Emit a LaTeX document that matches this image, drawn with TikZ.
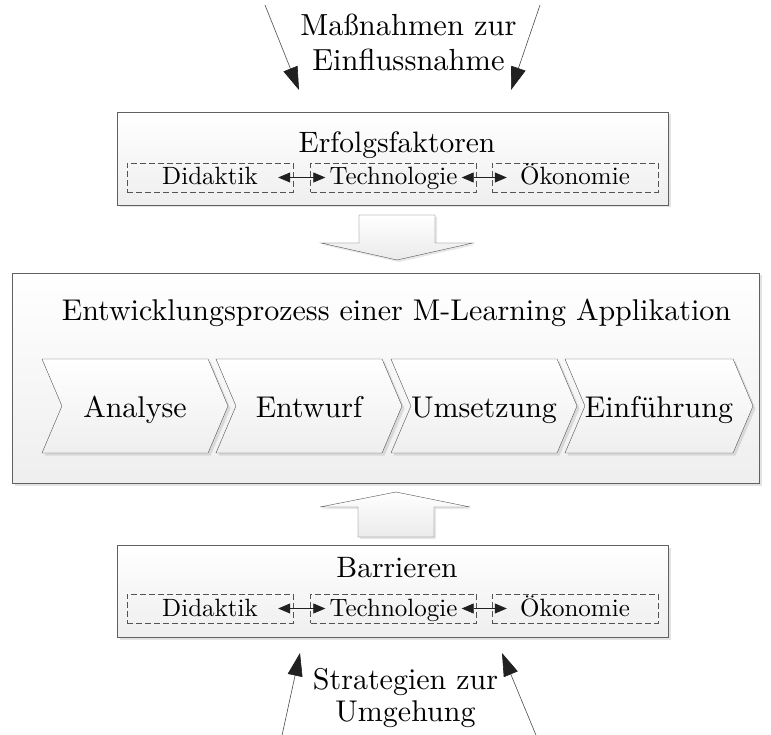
\documentclass[tikz,border=0pt]{standalone}
\usepackage{fontspec}
\setmainfont{lmroman10-regular.otf}
\usetikzlibrary{shapes.symbols,shadows,arrows.meta}

\begin{document}
\begin{tikzpicture}[x=1pt,y=-1pt,
    box/.style={draw=gray!75!black,top color=white,bottom color=gray!13,
      drop shadow={shadow xshift=2.5pt,shadow yshift=-2.5pt,opacity=0.22},inner sep=0pt},
    factor/.style={draw=gray!65!black,dash pattern=on 6pt off 3pt,minimum width=166pt,
      minimum height=29pt,inner sep=0pt,text height=19pt,text depth=4pt,
      font=\fontsize{25}{28}\selectfont},
    phase/.style={signal,signal to=east,signal from=west,signal pointer angle=134,
      draw=gray!65!black,top color=white,bottom color=gray!13,
      drop shadow={shadow xshift=2.5pt,shadow yshift=-2.5pt,opacity=0.22},
      minimum width=186pt,minimum height=94pt,inner sep=0pt,text height=26pt,text depth=4pt,
      font=\fontsize{30}{34}\selectfont},
    heading/.style={anchor=base,font=\fontsize{29.5}{34}\selectfont},
    blockarrow/.style={draw=gray!65!black,top color=white,bottom color=gray!16,
      drop shadow={shadow xshift=2pt,shadow yshift=-2pt,opacity=0.18}},
    link/.style={{Triangle[length=12pt,width=10pt]}-{Triangle[length=12pt,width=10pt]},
      draw=gray!25!black,line width=0.8pt,shorten <=-15pt,shorten >=-15pt},
    hint/.style={-{Triangle[length=23pt,width=15pt,color=gray!25!black]},draw=gray!60!black,
      line width=0.6pt}]

    \useasboundingbox[fill=white] (0,0) rectangle (771,735);

    % influence from above
    \node[align=center,font=\fontsize{30.5}{35}\selectfont] (massn) at (408.5,42) {Maßnahmen zur\\Einflussnahme};
    \coordinate (m1) at (265,5);
    \coordinate (m2) at (299,90);
    \coordinate (m3) at (540,5);
    \coordinate (m4) at (511,90);
    \draw[hint] (m1) -- (m2);
    \draw[hint] (m3) -- (m4);

    % success factors
    \node[box,minimum width=551pt,minimum height=93pt] (erfolg) at (392.5,158.5) {};
    \node[heading] (erfolgt) at (397,153) {Erfolgsfaktoren};
    \node[factor] (ed) at (210,177.5) {Didaktik};
    \node[factor] (et) at (393.5,177.5) {Technologie};
    \node[factor] (eo) at (575,177.5) {Ökonomie};
    \draw[link] (ed) -- (et);
    \draw[link] (et) -- (eo);

    \draw[blockarrow] (359,215) -- (435,215) -- (435,243) -- (473,243) -- (397,260)
      -- (321,243) -- (359,243) -- cycle;

    % development process
    \node[box,minimum width=747pt,minimum height=210pt] (proc) at (385.5,378) {};
    \node[heading,font=\fontsize{30}{36}\selectfont] (proct) at (396.5,320) {Entwicklungsprozess einer M-Learning Applikation};
    \node[phase] (p1) at (135,406) {Analyse};
    \node[phase] (p2) at (309,406) {Entwurf};
    \node[phase] (p3) at (484,406) {Umsetzung};
    \node[phase] (p4) at (659,406) {Einführung};

    \draw[blockarrow] (358,537) -- (434,537) -- (434,507) -- (470,507) -- (396,492)
      -- (320,507) -- (358,507) -- cycle;

    % barriers
    \node[box,minimum width=551pt,minimum height=92pt] (barr) at (392.5,591) {};
    \node[heading] (barrt) at (397,577) {Barrieren};
    \node[factor] (bd) at (210,608.5) {Didaktik};
    \node[factor] (bt) at (393.5,608.5) {Technologie};
    \node[factor] (bo) at (575,608.5) {Ökonomie};
    \draw[link] (bd) -- (bt);
    \draw[link] (bt) -- (bo);

    % strategies from below
    \node[align=center,font=\fontsize{30}{32}\selectfont] (strat) at (405.5,698) {Strategien zur\\Umgehung};
    \coordinate (s1) at (281,740);
    \coordinate (s2) at (300,653);
    \coordinate (s3) at (538,740);
    \coordinate (s4) at (502,653);
    \draw[hint] (s1) -- (s2);
    \draw[hint] (s3) -- (s4);
\end{tikzpicture}
\end{document}
